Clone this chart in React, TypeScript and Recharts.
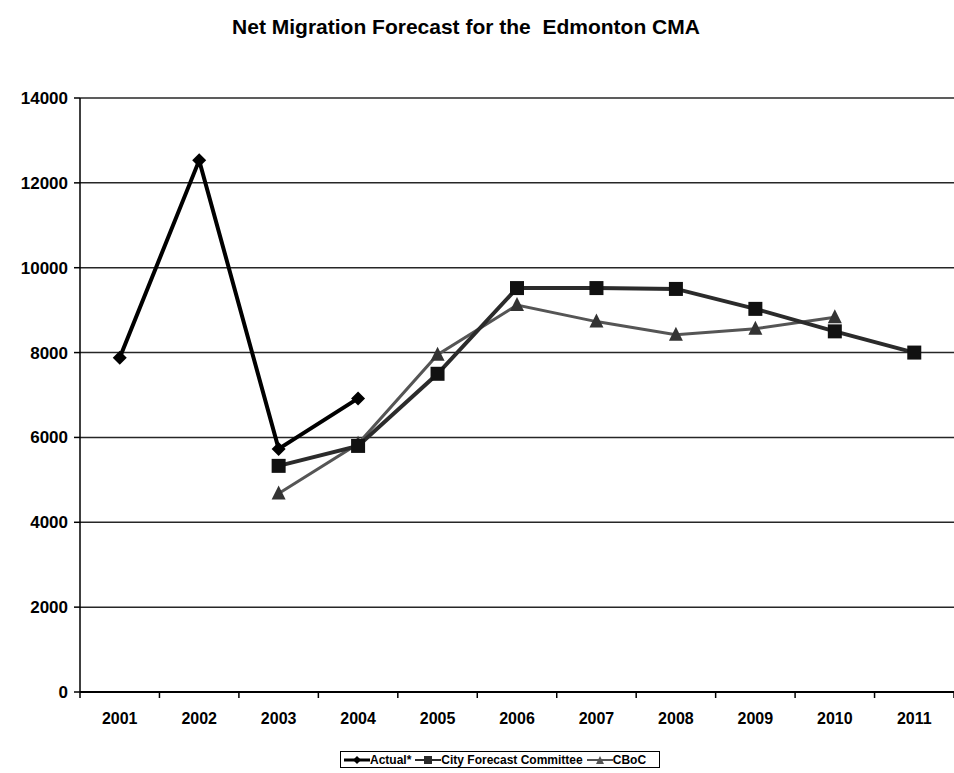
import { LineChart, Line, XAxis, YAxis, CartesianGrid } from "recharts";

const years = ["2001", "2002", "2003", "2004", "2005", "2006", "2007", "2008", "2009", "2010", "2011"];
const actual = [7880, 12530, 5730, 6920, null, null, null, null, null, null, null];
const cityForecast = [null, null, 5330, 5800, 7500, 9520, 9520, 9500, 9030, 8500, 8000];
const cboc = [null, null, 4680, 5850, 7950, 9120, 8730, 8420, 8560, 8830, null];
const yTicks = [0, 2000, 4000, 6000, 8000, 10000, 12000, 14000];

const data = years.map((year, i) => ({
  year,
  actual: actual[i],
  city: cityForecast[i],
  cboc: cboc[i],
}));

const W = 954;
const H = 773;
const LEFT = 80;
const RIGHT = 0;
const BAND = (W - LEFT - RIGHT) / years.length;

const font = "'Liberation Sans', Arial, sans-serif";

const Diamond = ({ cx, cy, fill }: any) =>
  cx == null || cy == null ? null : (
    <path d={`M${cx},${cy - 7}L${cx + 7},${cy}L${cx},${cy + 7}L${cx - 7},${cy}Z`} fill={fill} />
  );

const Square = ({ cx, cy, fill }: any) =>
  cx == null || cy == null ? null : <rect x={cx - 7} y={cy - 7} width={14} height={14} fill={fill} />;

const Triangle = ({ cx, cy, fill }: any) =>
  cx == null || cy == null ? null : (
    <path d={`M${cx},${cy - 8}L${cx + 7},${cy + 6}L${cx - 7},${cy + 6}Z`} fill={fill} />
  );

// Excel-style category axis: tick marks sit between the categories
const YearTick = ({ x, y, payload, index }: any) => (
  <g>
    <line x1={x - BAND / 2} x2={x - BAND / 2} y1={y} y2={y + 6} stroke="#000" strokeWidth={1.5} />
    {index === years.length - 1 && (
      <line x1={x + BAND / 2} x2={x + BAND / 2} y1={y} y2={y + 6} stroke="#000" strokeWidth={1.5} />
    )}
    <text
      x={x}
      y={y + 32}
      textAnchor="middle"
      fontFamily={font}
      fontWeight="bold"
      fontSize={16}
      fill="#000"
    >
      {payload.value}
    </text>
  </g>
);

const LegendItem = ({ label, color, width, marker }: any) => (
  <span style={{ display: "inline-flex", alignItems: "center", marginRight: 4 }}>
    <svg width={26} height={10}>
      <line x1={0} x2={26} y1={5} y2={5} stroke={color} strokeWidth={width} />
      {marker === "diamond" && <path d="M13,1L17,5L13,9L9,5Z" fill={color} />}
      {marker === "square" && <rect x={9} y={1} width={8} height={8} fill={color} />}
      {marker === "triangle" && <path d="M13,1L17,9L9,9Z" fill={color} />}
    </svg>
    <span>{label}</span>
  </span>
);

export default function App() {
  return (
    <div style={{ position: "absolute", left: 0, top: 0, width: W, height: H, background: "#fff" }}>
      <div
        style={{
          position: "absolute",
          top: 15,
          left: 0,
          width: W - 22,
          textAlign: "center",
          fontFamily: font,
          fontWeight: "bold",
          fontSize: 21,
        }}
      >
        Net Migration Forecast for the&nbsp; Edmonton CMA
      </div>
      <LineChart width={W} height={H} data={data} margin={{ top: 98, right: RIGHT, bottom: 41, left: 10 }}>
        <CartesianGrid vertical={false} stroke="#000" strokeWidth={1.5} strokeOpacity={0.85} />
        <XAxis
          dataKey="year"
          tick={<YearTick />}
          tickLine={false}
          tickSize={0}
          tickMargin={0}
          axisLine={{ stroke: "#000", strokeWidth: 2 }}
          interval={0}
          height={40}
          padding={{ left: BAND / 2, right: BAND / 2 }}
        />
        <YAxis
          width={70}
          domain={[0, 14000]}
          ticks={yTicks}
          interval={0}
          tickSize={6}
          tickMargin={6}
          axisLine={{ stroke: "#000", strokeWidth: 1.5 }}
          tickLine={{ stroke: "#000", strokeWidth: 1.5 }}
          tick={{ fontFamily: font, fontWeight: "bold", fontSize: 17, fill: "#000" }}
        />
        <Line
          dataKey="cboc"
          stroke="#555"
          strokeWidth={3}
          dot={<Triangle fill="#333" />}
          activeDot={false}
          isAnimationActive={false}
        />
        <Line
          dataKey="city"
          stroke="#2b2b2b"
          strokeWidth={4}
          dot={<Square fill="#111" />}
          activeDot={false}
          isAnimationActive={false}
        />
        <Line
          dataKey="actual"
          stroke="#000"
          strokeWidth={4}
          dot={<Diamond fill="#000" />}
          activeDot={false}
          isAnimationActive={false}
        />
      </LineChart>
      <div
        style={{
          position: "absolute",
          left: 340,
          top: 751,
          width: 320,
          height: 17,
          border: "1.5px solid #000",
          boxSizing: "border-box",
          display: "flex",
          alignItems: "center",
          paddingLeft: 3,
          fontFamily: font,
          fontWeight: "bold",
          fontSize: 12,
          whiteSpace: "nowrap",
          overflow: "hidden",
        }}
      >
        <LegendItem label="Actual*" color="#000" width={3} marker="diamond" />
        <LegendItem label="City Forecast Committee" color="#2b2b2b" width={2} marker="square" />
        <LegendItem label="CBoC" color="#555" width={2} marker="triangle" />
      </div>
    </div>
  );
}
